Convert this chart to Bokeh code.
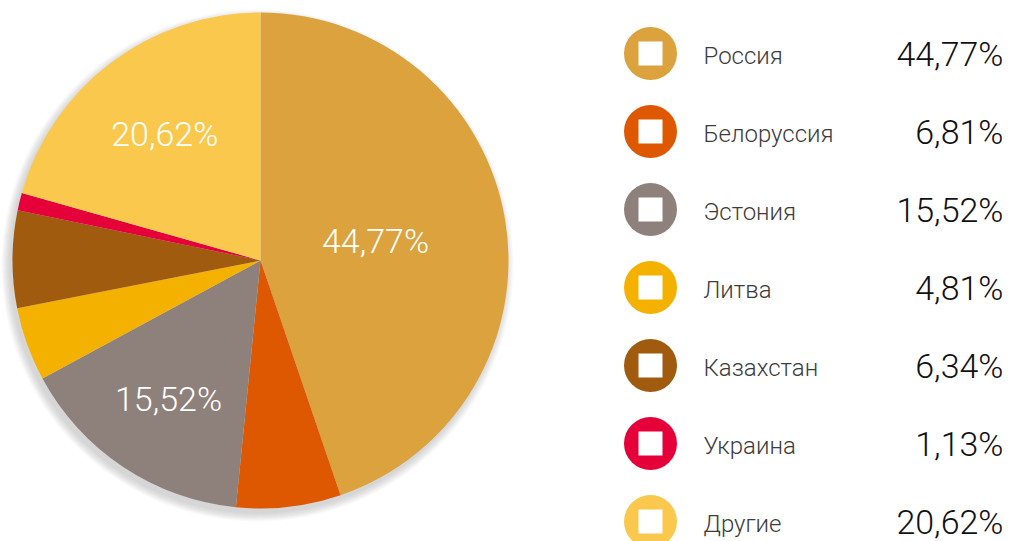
import math
from bokeh.plotting import figure
from bokeh.models import Range1d, ColumnDataSource
from bokeh.core.properties import value
from bokeh.embed import file_html
from bokeh.resources import INLINE

categories = ["Россия", "Белоруссия", "Эстония", "Литва", "Казахстан", "Украина", "Другие"]
shares = [44.77, 6.81, 15.52, 4.81, 6.34, 1.13, 20.62]
share_labels = ["44,77%", "6,81%", "15,52%", "4,81%", "6,34%", "1,13%", "20,62%"]
colors = ["#DBA23E", "#DD5800", "#8E817C", "#F5B100", "#A05B0E", "#E60039", "#F9C84C"]

W, H = 1011, 541
PAGE_H = 541
def Y(ys):
    return PAGE_H - ys

FONT = value("Roboto Light")

p = figure(width=W, height=H, output_backend="svg", toolbar_location=None,
           x_range=Range1d(0, W), y_range=Range1d(PAGE_H - H, PAGE_H),
           min_border=0, outline_line_color=None)
p.axis.visible = False
p.grid.visible = False
p.background_fill_color = "white"
p.border_fill_color = "white"

cx, cy, R = 260, Y(260), 248

# soft drop shadow (down-left)
for k in range(9):
    p.circle(x=[cx - 3], y=[cy - 5], radius=R + k, fill_color="#7a808c",
             fill_alpha=0.04, line_color=None)

total = sum(shares)
starts, ends, mids = [], [], []
acc = 0.0
for s in shares:
    a0 = math.pi / 2 - 2 * math.pi * acc / total
    acc += s
    a1 = math.pi / 2 - 2 * math.pi * acc / total
    starts.append(a0)
    ends.append(a1)
    mids.append((a0 + a1) / 2)

src = ColumnDataSource(dict(start=starts, end=ends, color=colors))
p.wedge(x=cx, y=cy, radius=R, start_angle="start", end_angle="end", direction="clock",
        fill_color="color", line_color=None, source=src)

# labels inside large slices
label_r = {0: 0.47, 2: 0.67, 6: 0.64}
lx, ly, lt = [], [], []
for i, f in label_r.items():
    lx.append(cx + f * R * math.cos(mids[i]))
    ly.append(cy + f * R * math.sin(mids[i]))
    lt.append(share_labels[i])
p.text(x=lx, y=ly, text=lt, text_color="white", text_font=FONT,
       text_font_size="34px", text_align="center", text_baseline="middle")

# legend
n = len(categories)
ly0, dy = 53, 78
leg_y = [Y(ly0 + dy * i) for i in range(n)]
p.scatter(x=[650] * n, y=leg_y, size=53, marker="circle", fill_color=colors, line_color=None)
p.scatter(x=[650] * n, y=leg_y, size=24, marker="square", fill_color="white", line_color=None)
p.text(x=[703] * n, y=[v - 2 for v in leg_y], text=categories, text_color="#3c3c3c", text_font=FONT,
       text_font_size="24px", text_align="left", text_baseline="middle")
p.text(x=[1003] * n, y=leg_y, text=share_labels, text_color="#111111", text_font=FONT,
       text_font_size="34px", text_align="right", text_baseline="middle")

open("out.html", "w").write(file_html(p, INLINE))
